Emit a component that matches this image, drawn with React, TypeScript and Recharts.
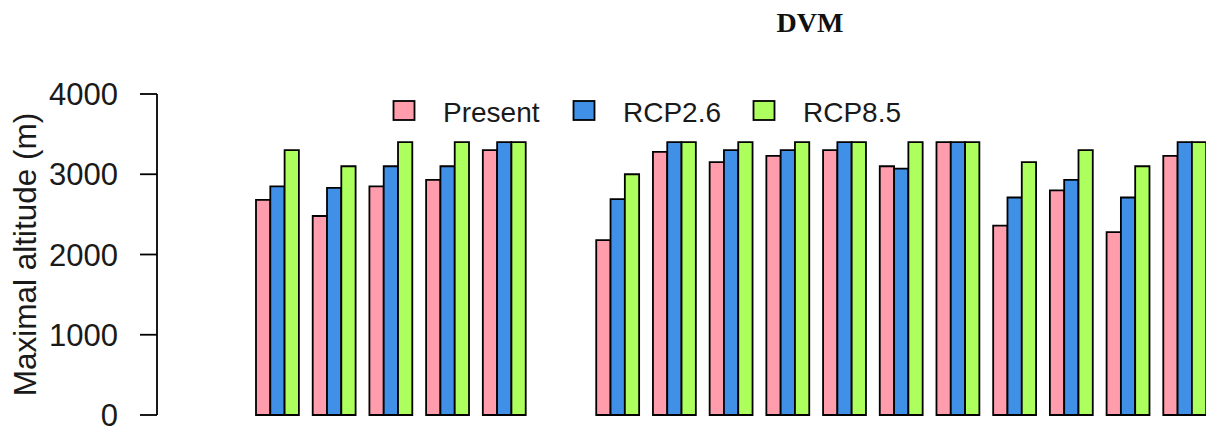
import React from "react";
import { BarChart, Bar, XAxis, YAxis, Legend } from "recharts";

// groups along the x axis; "gap" is the empty slot between the two blocks
const groups = ["1", "2", "3", "4", "5", "gap", "6", "7", "8", "9", "10", "11", "12", "13", "14", "15", "16"];
const present = [2680, 2480, 2850, 2930, 3300, null, 2180, 3280, 3150, 3230, 3300, 3100, 3400, 2360, 2800, 2280, 3230];
const rcp26 = [2850, 2830, 3100, 3100, 3400, null, 2690, 3400, 3300, 3300, 3400, 3070, 3400, 2710, 2930, 2710, 3400];
const rcp85 = [3300, 3100, 3400, 3400, 3400, null, 3000, 3400, 3400, 3400, 3400, 3400, 3400, 3150, 3300, 3100, 3400];
const yTicks = [0, 1000, 2000, 3000, 4000];

const C = {
  present: "#FF9DAC",
  rcp26: "#4190E8",
  rcp85: "#ADFF5E",
  ink: "#1a1a1a",
};

const series = [
  { key: "present", label: "Present", color: C.present },
  { key: "rcp26", label: "RCP2.6", color: C.rcp26 },
  { key: "rcp85", label: "RCP8.5", color: C.rcp85 },
];

const data = groups.map((name, i) => ({
  name,
  present: present[i],
  rcp26: rcp26[i],
  rcp85: rcp85[i],
}));

const FONT = "'Liberation Sans', Arial, sans-serif";

const YLabel = () => (
  <text
    x={36}
    y={254.5}
    transform="rotate(-90 36 254.5)"
    textAnchor="middle"
    fontSize={31.5}
    fontFamily={FONT}
    fill={C.ink}
  >
    Maximal altitude (m)
  </text>
);

const LegendContent = ({ payload }: any) => (
  <svg width={560} height={34} style={{ display: "block" }}>
    {(payload || []).map((p: any, i: number) => (
      <g key={p.value}>
        <rect x={13.5 + i * 180} y={5} width={21} height={19} fill={p.color} stroke="#000" strokeWidth={1.8} />
        <text x={63 + i * 180} y={25.7} fontSize={28} fontFamily={FONT} fill={C.ink}>
          {p.value}
        </text>
      </g>
    ))}
  </svg>
);

export default function App() {
  return (
    <div
      style={{
        position: "absolute",
        left: 0,
        top: 0,
        width: 1206,
        height: 428,
        overflow: "hidden",
        background: "#fff",
      }}
    >
      <svg width={1206} height={50} style={{ position: "absolute", left: 0, top: 0 }}>
        <text
          x={810}
          y={32}
          textAnchor="middle"
          fontSize={28}
          fontWeight="bold"
          fontFamily="'Liberation Serif', 'Times New Roman', serif"
          fill="#111"
        >
          DVM
        </text>
      </svg>
      <BarChart
        width={1230}
        height={428}
        data={data}
        margin={{ top: 94, right: 17, bottom: 13, left: 0 }}
        barGap={0}
        style={{ fontFamily: FONT }}
      >
        <XAxis dataKey="name" hide padding={{ left: 92, right: 0 }} />
        <YAxis
          width={157}
          domain={[0, 4000]}
          ticks={yTicks}
          interval={0}
          tickSize={17}
          tickMargin={22}
          tick={{ fontSize: 31, fill: C.ink, fontFamily: FONT }}
          axisLine={{ stroke: "#000", strokeWidth: 1.8 }}
          tickLine={{ stroke: "#000", strokeWidth: 1.8 }}
          label={<YLabel />}
        />
        <Legend
          layout="vertical"
          align="center"
          verticalAlign="middle"
          content={<LegendContent />}
          wrapperStyle={{ left: 380, top: 96, width: 560, height: 34 }}
        />
        {series.map((s) => (
          <Bar
            key={s.key}
            dataKey={s.key}
            name={s.label}
            fill={s.color}
            stroke="#000"
            strokeWidth={1.8}
            barSize={14.3}
            isAnimationActive={false}
          />
        ))}
      </BarChart>
    </div>
  );
}
